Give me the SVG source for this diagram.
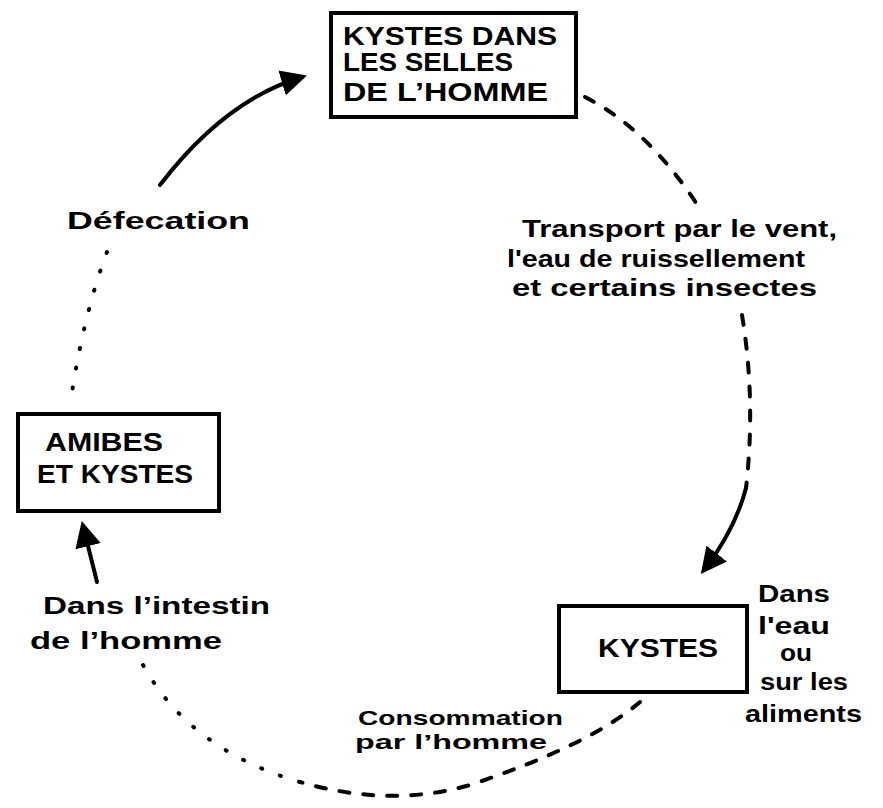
<svg xmlns="http://www.w3.org/2000/svg" width="883" height="808" viewBox="0 0 883 808">
<style>
.box{fill:#fff;stroke:#000;stroke-width:4}
.cap{font-family:"Liberation Sans",Arial,sans-serif;font-weight:bold;font-size:25px;fill:#000}
.lbl{font-family:"Liberation Sans",Arial,sans-serif;font-weight:bold;font-size:23px;fill:#000}
.sm{font-size:21px}
.solid{fill:none;stroke:#000;stroke-width:4;stroke-linecap:round}
.dash{fill:none;stroke:#000;stroke-width:4;stroke-dasharray:10 14;stroke-linecap:round}
.dot{fill:none;stroke:#000;stroke-width:4;stroke-dasharray:1 19;stroke-linecap:round}
</style>
<defs>
<marker id="ahb" viewBox="0 0 10 10" refX="8" refY="5" markerWidth="6.5" markerHeight="6.5" orient="auto">
<path d="M0,0 L10,5 L0,10 Z" fill="#000"/>
</marker>
</defs>
<rect width="883" height="808" fill="#fff"/>
<g id="connectors">
<path class="solid" d="M160,185 Q225,100 302,77" marker-end="url(#ahb)"/>
<path class="dot" d="M107,252 Q85,310 72,392"/>
<path class="dash" d="M585,97 Q650,130 702,212"/>
<path class="dash" d="M742,315 Q756,400 746,488"/>
<path class="solid" d="M746,488 Q735,530 704,570" marker-end="url(#ahb)"/>
<path class="dash" d="M640,702 Q590,745 470,785 Q390,808 300,782"/>
<path class="dot" d="M300,782 Q190,750 143,665"/>
<path class="solid" d="M97,582 L83,526" marker-end="url(#ahb)"/>
</g>
<g id="node-selles">
<rect class="box" x="331" y="13" width="245" height="104"/>
<text class="cap" x="343" y="45" textLength="214" lengthAdjust="spacingAndGlyphs">KYSTES DANS</text>
<text class="cap" x="343" y="71" textLength="170" lengthAdjust="spacingAndGlyphs">LES SELLES</text>
<text class="cap" x="343" y="101" textLength="205" lengthAdjust="spacingAndGlyphs">DE L’HOMME</text>
</g>
<g id="node-amibes">
<rect class="box" x="18" y="414" width="201" height="97"/>
<text class="cap" x="45" y="451" textLength="118" lengthAdjust="spacingAndGlyphs">AMIBES</text>
<text class="cap" x="37" y="483" textLength="156" lengthAdjust="spacingAndGlyphs">ET KYSTES</text>
</g>
<g id="node-kystes">
<rect class="box" x="559" y="606" width="188" height="86"/>
<text class="cap" x="598" y="657" textLength="120" lengthAdjust="spacingAndGlyphs">KYSTES</text>
</g>
<g id="labels">
<text class="lbl" x="67" y="229" textLength="183" lengthAdjust="spacingAndGlyphs">Défecation</text>
<text class="lbl" x="522" y="237" textLength="315" lengthAdjust="spacingAndGlyphs">Transport par le vent,</text>
<text class="lbl" x="507" y="267" textLength="298" lengthAdjust="spacingAndGlyphs">l'eau de ruissellement</text>
<text class="lbl" x="512" y="296" textLength="305" lengthAdjust="spacingAndGlyphs">et certains insectes</text>
<text class="lbl" x="758" y="602" textLength="72" lengthAdjust="spacingAndGlyphs">Dans</text>
<text class="lbl" x="758" y="634" textLength="72" lengthAdjust="spacingAndGlyphs">l'eau</text>
<text class="lbl" x="780" y="661" textLength="32" lengthAdjust="spacingAndGlyphs">ou</text>
<text class="lbl" x="760" y="690" textLength="88" lengthAdjust="spacingAndGlyphs">sur les</text>
<text class="lbl" x="745" y="722" textLength="117" lengthAdjust="spacingAndGlyphs">aliments</text>
<text class="lbl sm" x="358" y="725" textLength="205" lengthAdjust="spacingAndGlyphs">Consommation</text>
<text class="lbl sm" x="355" y="749" textLength="192" lengthAdjust="spacingAndGlyphs">par l’homme</text>
<text class="lbl" x="43" y="614" textLength="227" lengthAdjust="spacingAndGlyphs">Dans l’intestin</text>
<text class="lbl" x="30" y="649" textLength="192" lengthAdjust="spacingAndGlyphs">de l’homme</text>
</g>
</svg>
